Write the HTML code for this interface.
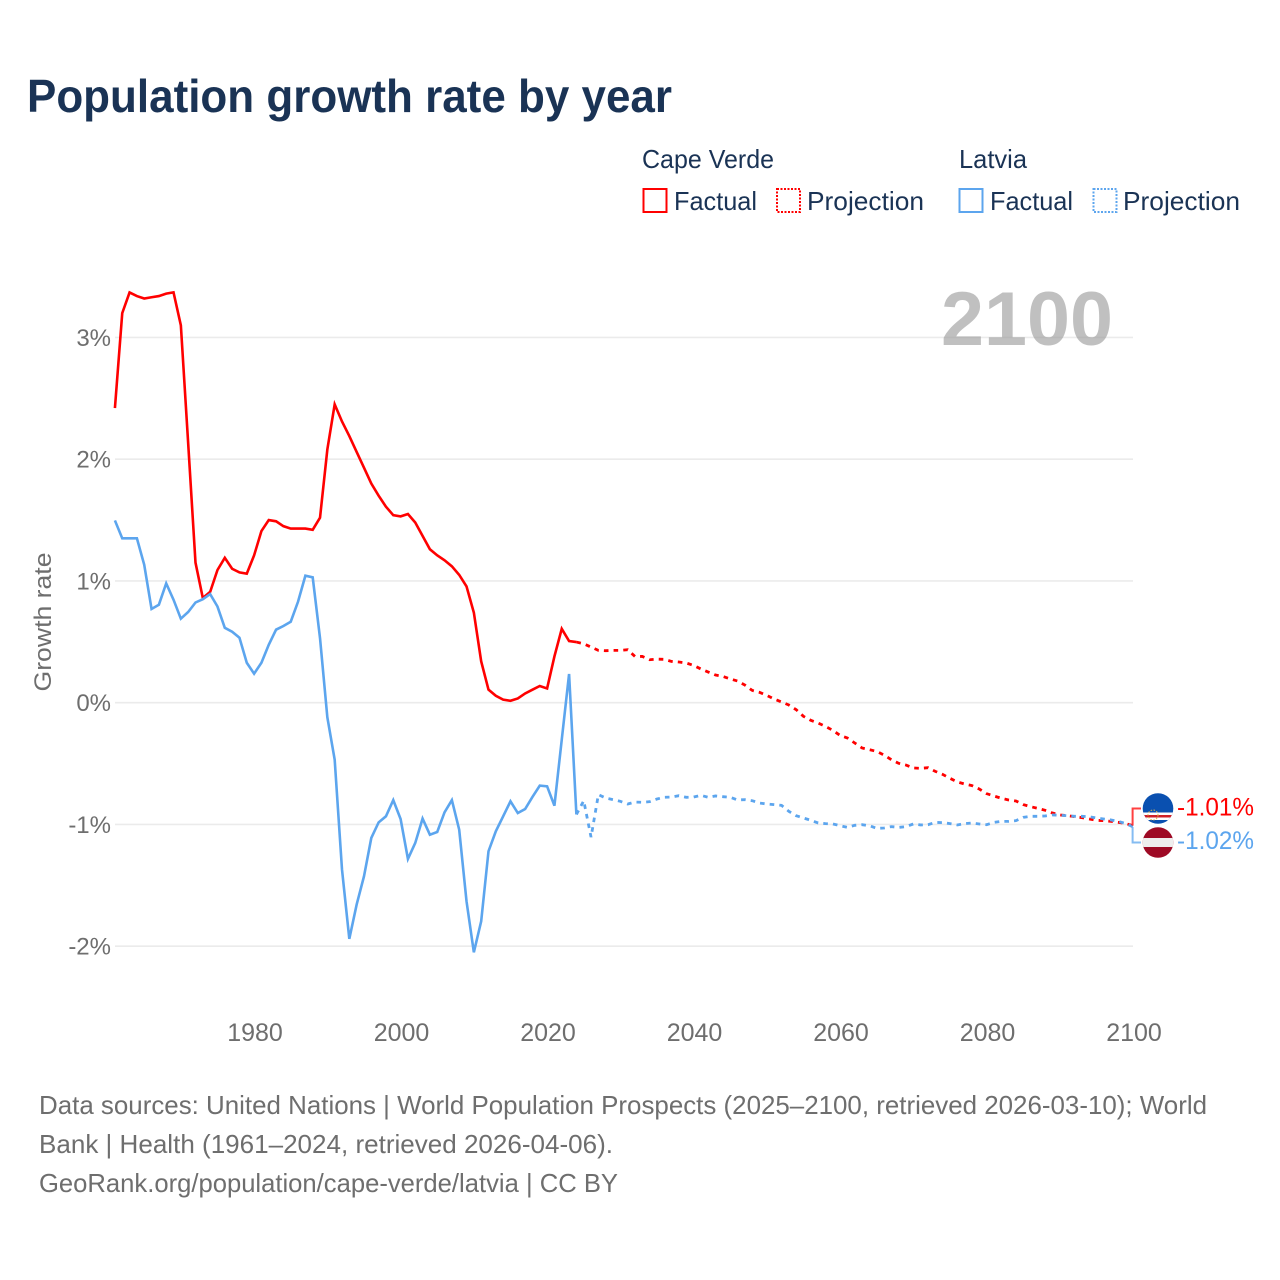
<!DOCTYPE html>
<html lang="en">
<head>
<meta charset="utf-8">
<title>Population growth rate by year</title>
<style>
html,body{margin:0;padding:0;background:#fff;width:1280px;height:1280px;overflow:hidden}
svg{display:block;font-family:"Liberation Sans",sans-serif}
</style>
</head>
<body>
<svg id="chart" xmlns="http://www.w3.org/2000/svg" width="1280" height="1280" viewBox="0 0 1280 1280">
  <rect x="0" y="0" width="1280" height="1280" fill="#ffffff"/>
  <text x="27" y="112" font-size="46" font-weight="700" fill="#1a3355" textLength="645" lengthAdjust="spacingAndGlyphs">Population growth rate by year</text>

  <g font-size="26" fill="#1a3355">
    <text x="642" y="168" textLength="132" lengthAdjust="spacingAndGlyphs">Cape Verde</text>
    <text x="959" y="168" textLength="68" lengthAdjust="spacingAndGlyphs">Latvia</text>
    <rect x="643.5" y="189" width="23" height="23" fill="none" stroke="#ff0000" stroke-width="2"/>
    <text x="674" y="210" textLength="83" lengthAdjust="spacingAndGlyphs">Factual</text>
    <rect x="777" y="189" width="23" height="23" fill="none" stroke="#ff0000" stroke-width="2" stroke-dasharray="2 1.5"/>
    <text x="807" y="210" textLength="117" lengthAdjust="spacingAndGlyphs">Projection</text>
    <rect x="959.5" y="189" width="23" height="23" fill="none" stroke="#5ca5ee" stroke-width="2"/>
    <text x="990" y="210" textLength="83" lengthAdjust="spacingAndGlyphs">Factual</text>
    <rect x="1093.5" y="189" width="23" height="23" fill="none" stroke="#5ca5ee" stroke-width="2" stroke-dasharray="2 1.5"/>
    <text x="1123" y="210" textLength="117" lengthAdjust="spacingAndGlyphs">Projection</text>
  </g>

  <text transform="translate(51,622) rotate(-90)" text-anchor="middle" font-size="24.5" fill="#6e6e6e" textLength="139" lengthAdjust="spacingAndGlyphs">Growth rate</text>

  <g id="grid"></g>
  <text x="941" y="345" font-size="76" font-weight="700" fill="#999999" fill-opacity="0.62" textLength="172" lengthAdjust="spacingAndGlyphs">2100</text>
  <g id="y-ticks"></g>
  <g id="x-ticks"></g>
  <g id="series"></g>

  <defs>
    <clipPath id="flag-clip-cv"><circle cx="1158" cy="808.5" r="15.3"/></clipPath>
    <clipPath id="flag-clip-lv"><circle cx="1158" cy="842.5" r="15.3"/></clipPath>
  </defs>
  <g clip-path="url(#flag-clip-cv)">
    <rect x="1142" y="792" width="32" height="34" fill="#0a50b0"/>
    <rect x="1142" y="812.5" width="32" height="7.5" fill="#ffffff"/>
    <rect x="1142" y="815" width="32" height="2.5" fill="#cf2027"/>
    <circle cx="1153" cy="815" r="5" fill="none" stroke="#e0b84a" stroke-width="1" stroke-dasharray="1.5 1.5"/>
  </g>
  <g clip-path="url(#flag-clip-lv)">
    <rect x="1142" y="826" width="32" height="34" fill="#9e0a25"/>
    <rect x="1142" y="838" width="32" height="9" fill="#eeeeee"/>
  </g>

  <g font-size="26" fill="#6e6e6e">
    <text x="39" y="1114" textLength="1168" lengthAdjust="spacingAndGlyphs">Data sources: United Nations | World Population Prospects (2025–2100, retrieved 2026-03-10); World</text>
    <text x="39" y="1153" textLength="574" lengthAdjust="spacingAndGlyphs">Bank | Health (1961–2024, retrieved 2026-04-06).</text>
    <text x="39" y="1192" textLength="579" lengthAdjust="spacingAndGlyphs">GeoRank.org/population/cape-verde/latvia | CC BY</text>
  </g>
</svg>

<script>
const factualStartYear = 1961;
const projectionStartYear = 2025;

const yTickValues = [3, 2, 1, 0, -1, -2];
const yTickLabels = ['3%', '2%', '1%', '0%', '-1%', '-2%'];
const xTickYears = [1980, 2000, 2020, 2040, 2060, 2080, 2100];
const xTickLabels = ['1980', '2000', '2020', '2040', '2060', '2080', '2100'];

const capeVerdeFactual = [
  2.42, 3.20, 3.37, 3.34, 3.32, 3.33, 3.34, 3.36, 3.37, 3.10,
  2.13, 1.15, 0.86, 0.91, 1.09, 1.19, 1.10, 1.07, 1.06, 1.21,
  1.41, 1.50, 1.49, 1.45, 1.43, 1.43, 1.43, 1.42, 1.52, 2.08,
  2.45, 2.31, 2.19, 2.06, 1.93, 1.80, 1.70, 1.61, 1.54, 1.53,
  1.55, 1.48, 1.37, 1.26, 1.21, 1.17, 1.12, 1.05, 0.955, 0.74,
  0.34, 0.107, 0.057, 0.025, 0.016, 0.035, 0.076, 0.107, 0.137, 0.117,
  0.38, 0.607, 0.506, 0.498
];
const capeVerdeProjection = [
  0.484, 0.457, 0.43, 0.427, 0.43, 0.43, 0.435, 0.38, 0.38, 0.353,
  0.358, 0.356, 0.339, 0.334, 0.326, 0.306, 0.277, 0.252, 0.227, 0.216,
  0.195, 0.178, 0.145, 0.101, 0.085, 0.06, 0.03, 0.006, -0.019, -0.057,
  -0.112, -0.145, -0.167, -0.195, -0.227, -0.269, -0.29, -0.331, -0.372, -0.386,
  -0.40, -0.43, -0.468, -0.498, -0.512, -0.536, -0.539, -0.534, -0.564, -0.589,
  -0.621, -0.651, -0.668, -0.681, -0.709, -0.747, -0.766, -0.785, -0.799, -0.807,
  -0.837, -0.854, -0.868, -0.884, -0.906, -0.922, -0.928, -0.936, -0.944, -0.955,
  -0.966, -0.969, -0.975, -0.983, -0.993, -1.01
];
const latviaFactual = [
  1.497, 1.35, 1.35, 1.35, 1.133, 0.77, 0.805, 0.98, 0.846, 0.69,
  0.745, 0.823, 0.85, 0.892, 0.79, 0.615, 0.583, 0.534, 0.328, 0.238,
  0.328, 0.476, 0.60, 0.63, 0.665, 0.83, 1.043, 1.03, 0.53, -0.12,
  -0.468, -1.37, -1.94, -1.658, -1.426, -1.111, -0.983, -0.933, -0.80, -0.955,
  -1.283, -1.152, -0.952, -1.084, -1.062, -0.90, -0.80, -1.043, -1.631, -2.05,
  -1.795, -1.22, -1.056, -0.933, -0.81, -0.906, -0.873, -0.774, -0.681, -0.687,
  -0.846, -0.304, 0.236, -0.918
];
const latviaProjection = [
  -0.805, -1.104, -0.755, -0.783, -0.796, -0.81, -0.832, -0.816, -0.818, -0.813,
  -0.791, -0.777, -0.775, -0.764, -0.777, -0.775, -0.761, -0.777, -0.766, -0.772,
  -0.777, -0.799, -0.796, -0.805, -0.824, -0.832, -0.837, -0.843, -0.892, -0.928,
  -0.947, -0.966, -0.988, -0.993, -0.996, -1.01, -1.024, -1.007, -1.002, -1.01,
  -1.032, -1.029, -1.018, -1.024, -1.018, -0.996, -1.004, -1.002, -0.983, -0.985,
  -0.993, -1.004, -0.993, -0.988, -0.996, -1.002, -0.983, -0.975, -0.975, -0.969,
  -0.942, -0.933, -0.933, -0.93, -0.922, -0.925, -0.928, -0.933, -0.933, -0.936,
  -0.947, -0.955, -0.963, -0.975, -0.993, -1.02
];
const endLabelCapeVerde = '-1.01%';
const endLabelLatvia = '-1.02%';

const SVG_NS = 'http://www.w3.org/2000/svg';
const RED = '#ff0000';
const BLUE = '#5ca5ee';

function xScale(year) { return 254.1 + (year - 1980) * 7.325; }
function yScale(value) { return 702.7 - value * 121.75; }

function make(tag, parent) {
  const el = document.createElementNS(SVG_NS, tag);
  parent.appendChild(el);
  return el;
}

function linePath(values, startYear, prefix) {
  const parts = prefix ? [prefix] : [];
  values.forEach(function (v, i) {
    parts.push(xScale(startYear + i).toFixed(2) + ' ' + yScale(v).toFixed(2));
  });
  return 'M' + parts.join(' L');
}

const gridGroup = document.getElementById('grid');
const yTickGroup = document.getElementById('y-ticks');
const xTickGroup = document.getElementById('x-ticks');
const seriesGroup = document.getElementById('series');

yTickValues.forEach(function (value, i) {
  const line = make('line', gridGroup);
  
  
  line.setAttribute('x1', 115);
  line.setAttribute('x2', 1133);
  line.setAttribute('y1', yScale(value));
  line.setAttribute('y2', yScale(value));
  line.setAttribute('stroke', '#ebebeb');
  line.setAttribute('stroke-width', 1.6);

  const label = make('text', yTickGroup);
  
  
  label.setAttribute('x', 111);
  label.setAttribute('y', yScale(value) + 8.5);
  label.setAttribute('text-anchor', 'end');
  label.setAttribute('font-size', 24);
  label.setAttribute('fill', '#6e6e6e');
  label.textContent = yTickLabels[i];
});

xTickYears.forEach(function (year, i) {
  const label = make('text', xTickGroup);
  
  
  label.setAttribute('x', xScale(year) + 0.9);
  label.setAttribute('y', 1041);
  label.setAttribute('text-anchor', 'middle');
  label.setAttribute('font-size', 25);
  label.setAttribute('fill', '#6e6e6e');
  label.textContent = xTickLabels[i];
});

function drawSeries(name, factual, projection, color) {
  const lastFactualYear = factualStartYear + factual.length - 1;
  const lastFactualPoint = xScale(lastFactualYear).toFixed(2) + ' ' + yScale(factual[factual.length - 1]).toFixed(2);

  const factualLine = make('path', seriesGroup);
  
  
  factualLine.setAttribute('d', linePath(factual, factualStartYear));
  factualLine.setAttribute('fill', 'none');
  factualLine.setAttribute('stroke', color);
  factualLine.setAttribute('stroke-width', 2.6);
  factualLine.setAttribute('stroke-linejoin', 'miter');

  const projectionLine = make('path', seriesGroup);
  
  
  projectionLine.setAttribute('d', linePath(projection, projectionStartYear, lastFactualPoint));
  projectionLine.setAttribute('fill', 'none');
  projectionLine.setAttribute('stroke', color);
  projectionLine.setAttribute('stroke-width', 2.8);
  projectionLine.setAttribute('stroke-dasharray', '4.6 5.1');
}

drawSeries('cape-verde', capeVerdeFactual, capeVerdeProjection, RED);
drawSeries('latvia', latviaFactual, latviaProjection, BLUE);

function drawEndMarker(name, endValue, labelY, connectorY, text, color) {
  const connector = make('path', seriesGroup);
  
  
  const endX = xScale(2100) - 0.5;
  connector.setAttribute('d', 'M' + endX + ' ' + yScale(endValue) + ' L' + endX + ' ' + connectorY + ' L1141 ' + connectorY);
  connector.setAttribute('fill', 'none');
  connector.setAttribute('stroke', color);
  connector.setAttribute('stroke-width', 2);
  connector.setAttribute('opacity', 0.75);

  const label = make('text', seriesGroup);
  
  
  label.setAttribute('x', 1177);
  label.setAttribute('y', labelY);
  label.setAttribute('font-size', 25);
  label.setAttribute('fill', color);
  label.setAttribute('textLength', 77);
  label.setAttribute('lengthAdjust', 'spacingAndGlyphs');
  label.textContent = text;
}

drawEndMarker('cape-verde', capeVerdeProjection[capeVerdeProjection.length - 1], 815.5, 808.5, endLabelCapeVerde, RED);
drawEndMarker('latvia', latviaProjection[latviaProjection.length - 1], 849, 842.5, endLabelLatvia, BLUE);
</script>
</body>
</html>
